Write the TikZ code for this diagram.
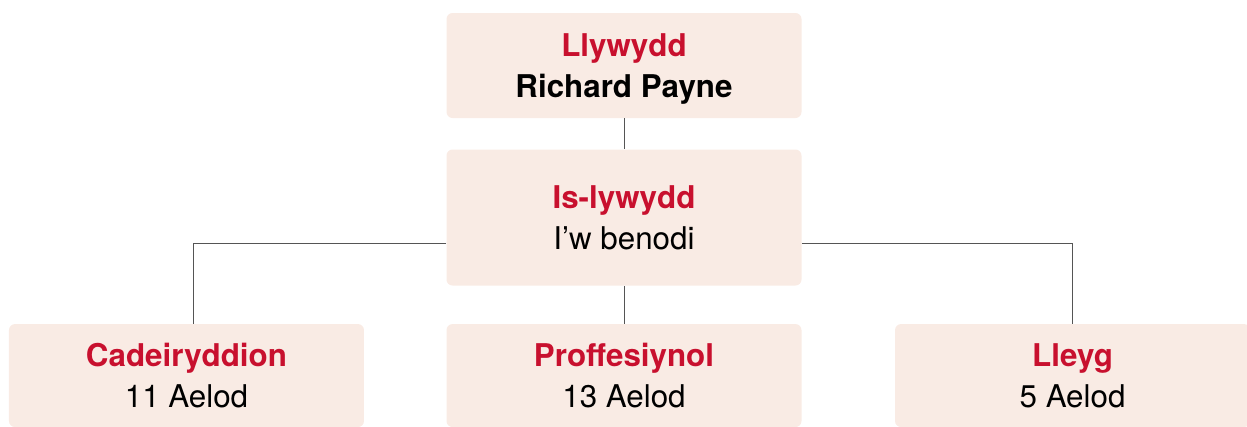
\documentclass[tikz,border=0pt]{standalone}
\usepackage{fontspec}
\setmainfont{TeX Gyre Heros}
\usetikzlibrary{positioning}
\definecolor{boxfill}{RGB}{249,235,228}
\definecolor{titlered}{RGB}{200,16,46}
\definecolor{linkgray}{RGB}{85,85,85}
\tikzset{
  rolebox/.style={rectangle, rounded corners=4.5pt, fill=boxfill, inner sep=0pt,
    minimum width=266.25pt, align=center, text centered, text depth=0pt,
    font=\fontsize{23.5}{30.75}\selectfont},
  link/.style={draw=linkgray, line width=0.75pt},
}
\newcommand{\roletitle}[1]{{\color{titlered}\bfseries #1}}

\begin{document}
\begin{tikzpicture}[x=0.75pt, y=-0.75pt]
\useasboundingbox (0,0) rectangle (1247,426);

\node (llywydd) [rolebox, minimum height=78.75pt] at (624,65.5) {\roletitle{Llywydd}\\ \textbf{Richard Payne}};
\node (islywydd) [rolebox, minimum height=102pt, below=23.25pt of llywydd] {\roletitle{Is-lywydd}\\ I’w benodi};
\node (proff) [rolebox, minimum height=77.25pt, below=28.5pt of islywydd] {\roletitle{Proffesiynol}\\ 13 Aelod};
\node (cadeir) [rolebox, minimum height=77.25pt, left=61.5pt of proff] {\roletitle{Cadeiryddion}\\ 11 Aelod};
\node (lleyg) [rolebox, minimum height=77.25pt, right=69.75pt of proff] {\roletitle{Lleyg}\\ 5 Aelod};

\draw [link] (llywydd) -- (islywydd);
\draw [link] (islywydd) -- (proff);
\draw [link] ([yshift=-19.5pt]islywydd.west) -| ([xshift=5.6pt]cadeir.north);
\draw [link] ([yshift=-19.5pt]islywydd.east) -| (lleyg.north);

\end{tikzpicture}
\end{document}
